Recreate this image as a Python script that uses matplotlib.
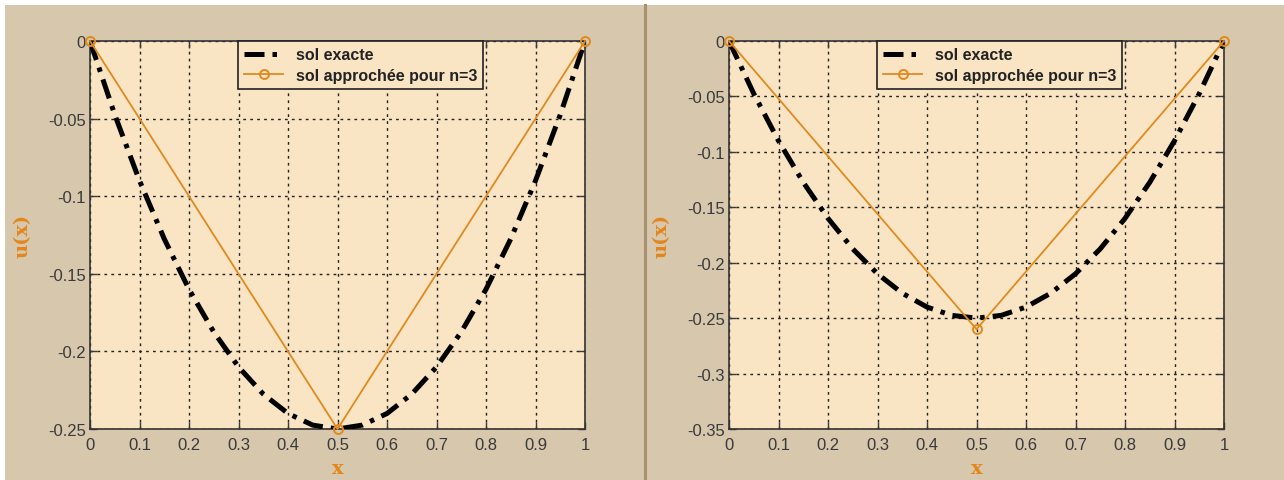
import matplotlib
matplotlib.use("Agg")
import matplotlib.pyplot as plt
from matplotlib.patches import Rectangle
from matplotlib.lines import Line2D
from matplotlib.ticker import FuncFormatter

plt.rcParams['font.family'] = ['Liberation Sans', 'DejaVu Sans']
plt.rcParams['axes.unicode_minus'] = False

# exact solution
x_exact = [0, 0.05, 0.1, 0.15, 0.2, 0.25, 0.3, 0.35, 0.4, 0.45, 0.5,
           0.55, 0.6, 0.65, 0.7, 0.75, 0.8, 0.85, 0.9, 0.95, 1]
u_exact = [0, -0.0475, -0.09, -0.1275, -0.16, -0.1875, -0.21, -0.2275, -0.24, -0.2475, -0.25,
           -0.2475, -0.24, -0.2275, -0.21, -0.1875, -0.16, -0.1275, -0.09, -0.0475, 0]

# approximate solutions (n=3)
x_approx = [0, 0.5, 1]
u_approx_left = [0, -0.25, 0]
u_approx_right = [0, -0.26, 0]

ylims = [(-0.25, 0), (-0.35, 0)]
yticks_left = [0, -0.05, -0.1, -0.15, -0.2, -0.25]
yticks_right = [0, -0.05, -0.1, -0.15, -0.2, -0.25, -0.3, -0.35]
xticks = [0, 0.1, 0.2, 0.3, 0.4, 0.5, 0.6, 0.7, 0.8, 0.9, 1]

fig_bg = '#d6c7ad'
ax_bg = '#f9e4c4'
orange = '#e08a1e'
lab_col = '#e3861c'

fig = plt.figure(figsize=(12.84, 4.81), dpi=100, facecolor=fig_bg)

# white strips on top and left edge
fig.add_artist(Rectangle((0, 1 - 6 / 481), 1, 6 / 481, transform=fig.transFigure,
                         facecolor='white', edgecolor='none', zorder=0))
fig.add_artist(Rectangle((0, 0), 5 / 1284, 1, transform=fig.transFigure,
                         facecolor='white', edgecolor='none', zorder=0))
# divider between the two panels
fig.add_artist(Line2D([645 / 1284, 645 / 1284], [0, 1 - 6 / 481], transform=fig.transFigure,
                      color='#a8916f', lw=2.2))

panels = [
    (90, 585, u_approx_left, ylims[0], yticks_left),
    (729, 1224, u_approx_right, ylims[1], yticks_right),
]

fmt = FuncFormatter(lambda v, p: '%g' % round(v, 4))

for x0, x1, u_app, ylim, yt in panels:
    ax = fig.add_axes([x0 / 1284, 1 - 430 / 481, (x1 - x0) / 1284, (430 - 42) / 481])
    ax.set_facecolor(ax_bg)
    ax.plot(x_exact, u_exact, color='black', lw=3.6, linestyle=(0, (4, 1.6, 0.9, 1.6)),
            label='sol exacte', zorder=3)
    ax.plot(x_approx, u_app, color=orange, lw=1.3, marker='o', markersize=6.5,
            markerfacecolor='none', markeredgecolor=orange, markeredgewidth=1.4,
            label='sol approchée pour n=3', zorder=4, clip_on=False)
    ax.set_xlim(0, 1)
    ax.set_ylim(*ylim)
    ax.set_xticks(xticks)
    ax.set_yticks(yt)
    ax.xaxis.set_major_formatter(fmt)
    ax.yaxis.set_major_formatter(fmt)
    ax.grid(True, color='#222222', linestyle=(0, (2, 3)), lw=1.0)
    ax.tick_params(direction='in', top=True, right=True, length=5, width=1,
                   labelsize=12, colors='#3a3a3a', pad=3)
    ax.tick_params(axis='x', pad=6)
    for s in ax.spines.values():
        s.set_color('#333333')
        s.set_linewidth(1.2)
    ax.set_xlabel('x', family='DejaVu Serif', fontweight='bold', fontsize=14,
                  color=lab_col, labelpad=5)
    ax.set_ylabel('u(x)', family='DejaVu Serif', fontweight='bold', fontsize=14,
                  color=lab_col, labelpad=12)
    leg = ax.legend(loc='upper left', bbox_to_anchor=(0.299, 1.0), fancybox=False,
                    framealpha=1, facecolor=ax_bg, edgecolor='#222222',
                    prop={'weight': 'bold', 'size': 11.5}, handlelength=2.4,
                    borderaxespad=0, borderpad=0.4, labelspacing=0.35)
    leg.get_frame().set_linewidth(1.2)
    for t in leg.get_texts():
        t.set_color('#222222')

fig.savefig('out.png', dpi=100, facecolor=fig_bg)
